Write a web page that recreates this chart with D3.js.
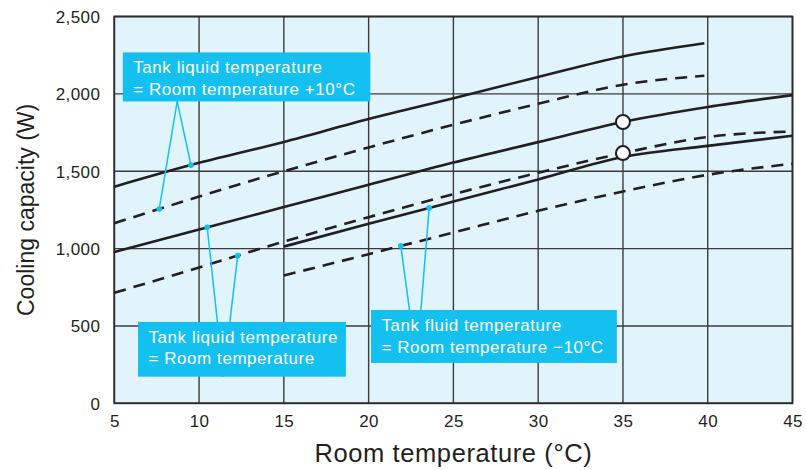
<html>
<head>
<meta charset="utf-8">
<title>Cooling capacity</title>
<script src="https://cdnjs.cloudflare.com/ajax/libs/d3/7.8.5/d3.min.js"></script>
<style>
  body { margin: 0; background: #fff; }
  text { font-family: "Liberation Sans", Arial, sans-serif; fill: #231f20; }
</style>
</head>
<body>
<div id="chart"></div>
<script>
  // room temperature (°C) sampling points
  const roomTemps = [5, 10, 15, 20, 25, 30, 35, 40, 45];

  // cooling capacity (W), null = no curve there
  const plus10Solid  = [1400, 1554, 1689, 1837, 1972, 2109, 2242, 2327, null];
  const plus10Dashed = [1164, 1336, 1500, 1654, 1800, 1936, 2059, 2117, null];
  const roomSolid    = [978, 1124, 1268, 1412, 1556, 1688, 1818, 1915, 1992];
  const roomDashed   = [714, 878, 1045, 1203, 1352, 1490, 1617, 1721, 1757];
  const minus10Solid  = [null, null, 1013, 1160, 1304, 1447, 1592, 1664, 1729];
  const minus10Dashed = [null, null, 826, 964, 1104, 1244, 1369, 1477, 1548];

  // the +10 curves stop just short of 40 °C
  const plus10End = 39.8;

  const xTicks = [5, 10, 15, 20, 25, 30, 35, 40, 45];
  const yTicks = [0, 500, 1000, 1500, 2000, 2500];

  // rated points marked with circles
  const markers = [
    { x: 35, series: 'roomSolid' },
    { x: 35, series: 'roomDashed' }
  ];

  // callout boxes in data units, dots sit on the named curve
  const callouts = [
    { lines: ['Tank liquid temperature', '= Room temperature +10°C'],
      box: [5.5, 20.1, 2268, 1951], apex: 8.71,
      dots: [{ x: 9.52, series: 'plus10Solid' }, { x: 7.65, series: 'plus10Dashed' }] },
    { lines: ['Tank liquid temperature', '= Room temperature'],
      box: [6.4, 18.66, 526, 172], apex: 11.43,
      dots: [{ x: 10.48, series: 'roomSolid' }, { x: 12.28, series: 'roomDashed' }] },
    { lines: ['Tank fluid temperature', '= Room temperature \u221210°C'],
      box: [20.14, 34.64, 603, 261], apex: 22.83,
      dots: [{ x: 21.9, series: 'minus10Dashed' }, { x: 23.57, series: 'minus10Solid' }] }
  ];

  const seriesMap = { plus10Solid, plus10Dashed, roomSolid, roomDashed, minus10Solid, minus10Dashed };
  const curves = [
    { name: 'plus10Solid', dashed: false },
    { name: 'plus10Dashed', dashed: true },
    { name: 'roomSolid', dashed: false },
    { name: 'roomDashed', dashed: true },
    { name: 'minus10Solid', dashed: false },
    { name: 'minus10Dashed', dashed: true }
  ];

  const width = 806, height = 470;
  const plotLeft = 114.3, plotRight = 792.5, plotTop = 16.5, plotBottom = 403.3;

  const x = d3.scaleLinear().domain([5, 45]).range([plotLeft, plotRight]);
  const y = d3.scaleLinear().domain([0, 2500]).range([plotBottom, plotTop]);

  function points(name) {
    return roomTemps
      .map((t, i) => ({ t: (name.startsWith('plus10') && t === 40) ? plus10End : t, v: seriesMap[name][i] }))
      .filter(d => d.v !== null);
  }

  // value on a curve at temperature t (linear between readings)
  function valueAt(name, t) {
    const p = points(name);
    for (let i = 0; i < p.length - 1; i++) {
      if (t >= p[i].t && t <= p[i + 1].t) {
        const f = (t - p[i].t) / (p[i + 1].t - p[i].t);
        return p[i].v + f * (p[i + 1].v - p[i].v);
      }
    }
    return p[p.length - 1].v;
  }

  const svg = d3.select('#chart').append('svg')
    .attr('width', width)
    .attr('height', height);

  // plot background
  svg.append('rect')
    .attr('x', plotLeft).attr('y', plotTop)
    .attr('width', plotRight - plotLeft).attr('height', plotBottom - plotTop)
    .attr('fill', '#e1f3fb');

  // grid
  svg.append('g').selectAll('line')
    .data(xTicks)
    .join('line')
    .attr('x1', d => x(d)).attr('x2', d => x(d))
    .attr('y1', plotTop).attr('y2', plotBottom)
    .attr('stroke', '#3b3b3b').attr('stroke-width', 1.4);

  svg.append('g').selectAll('line')
    .data(yTicks)
    .join('line')
    .attr('x1', plotLeft).attr('x2', plotRight)
    .attr('y1', d => y(d)).attr('y2', d => y(d))
    .attr('stroke', '#3b3b3b').attr('stroke-width', 1.4);

  svg.append('rect')
    .attr('x', plotLeft).attr('y', plotTop)
    .attr('width', plotRight - plotLeft).attr('height', plotBottom - plotTop)
    .attr('fill', 'none')
    .attr('stroke', '#2b2b2b').attr('stroke-width', 1.8);

  // axes labels
  const xAxis = d3.axisBottom(x).tickValues(xTicks).tickSize(0).tickPadding(0);
  svg.append('g')
    .attr('transform', `translate(0, ${plotBottom})`)
    .call(xAxis)
    .call(g => g.select('.domain').remove())
    .selectAll('text')
    .attr('y', 24)
    .attr('dy', 0)
    .style('font-size', '17px')
    .style('letter-spacing', '0.4px')
    .style('font-family', '"Liberation Sans", Arial, sans-serif')
    .attr('fill', '#231f20');

  const yAxis = d3.axisLeft(y).tickValues(yTicks).tickSize(0).tickPadding(0)
    .tickFormat(d3.format(','));
  svg.append('g')
    .attr('transform', `translate(${plotLeft - 14}, 0)`)
    .call(yAxis)
    .call(g => g.select('.domain').remove())
    .selectAll('text')
    .attr('dy', '0.35em')
    .style('font-size', '17px')
    .style('letter-spacing', '0.4px')
    .style('font-family', '"Liberation Sans", Arial, sans-serif')
    .attr('fill', '#231f20');

  svg.append('text')
    .attr('x', (plotLeft + plotRight) / 2).attr('y', 462)
    .attr('text-anchor', 'middle')
    .style('font-size', '25.5px')
    .style('letter-spacing', '0.6px')
    .text('Room temperature (°C)');

  svg.append('text')
    .attr('transform', `translate(34, ${(plotTop + plotBottom) / 2}) rotate(-90)`)
    .attr('text-anchor', 'middle')
    .style('font-size', '23px')
    .text('Cooling capacity (W)');

  // curves
  const line = d3.line()
    .x(d => x(d.t))
    .y(d => y(d.v))
    .curve(d3.curveMonotoneX);

  svg.append('g').selectAll('path')
    .data(curves)
    .join('path')
    .attr('d', d => line(points(d.name)))
    .attr('fill', 'none')
    .attr('stroke', '#231f20')
    .attr('stroke-width', 2.6)
    .attr('stroke-dasharray', d => d.dashed ? '12,8' : null);

  // callouts
  const boxColor = '#14c0f0';
  callouts.forEach(c => {
    const g = svg.append('g');
    const [x0, x1, v0, v1] = c.box;
    c.dots.forEach(dot => {
      const px = x(dot.x), py = y(valueAt(dot.series, dot.x));
      g.append('line')
        .attr('x1', x(c.apex)).attr('y1', y(v1))
        .attr('x2', px).attr('y2', py)
        .attr('stroke', boxColor).attr('stroke-width', 1.5);
      g.append('circle')
        .attr('cx', px).attr('cy', py).attr('r', 2.8)
        .attr('fill', boxColor);
    });
    g.append('rect')
      .attr('x', x(x0)).attr('y', y(v0))
      .attr('width', x(x1) - x(x0)).attr('height', y(v1) - y(v0))
      .attr('fill', boxColor);
    g.selectAll('text')
      .data(c.lines)
      .join('text')
      .attr('x', x(x0) + 10.5)
      .attr('y', (d, i) => y(v0) + 21 + i * 21.5)
      .style('font-size', '17px')
      .style('letter-spacing', '0.55px')
      .style('fill', '#fff')
      .text(d => d);
  });

  // rated point markers
  svg.append('g').selectAll('circle')
    .data(markers)
    .join('circle')
    .attr('cx', d => x(d.x))
    .attr('cy', d => y(valueAt(d.series, d.x)))
    .attr('r', 7)
    .attr('fill', '#fff')
    .attr('stroke', '#231f20')
    .attr('stroke-width', 2);
</script>
</body>
</html>
